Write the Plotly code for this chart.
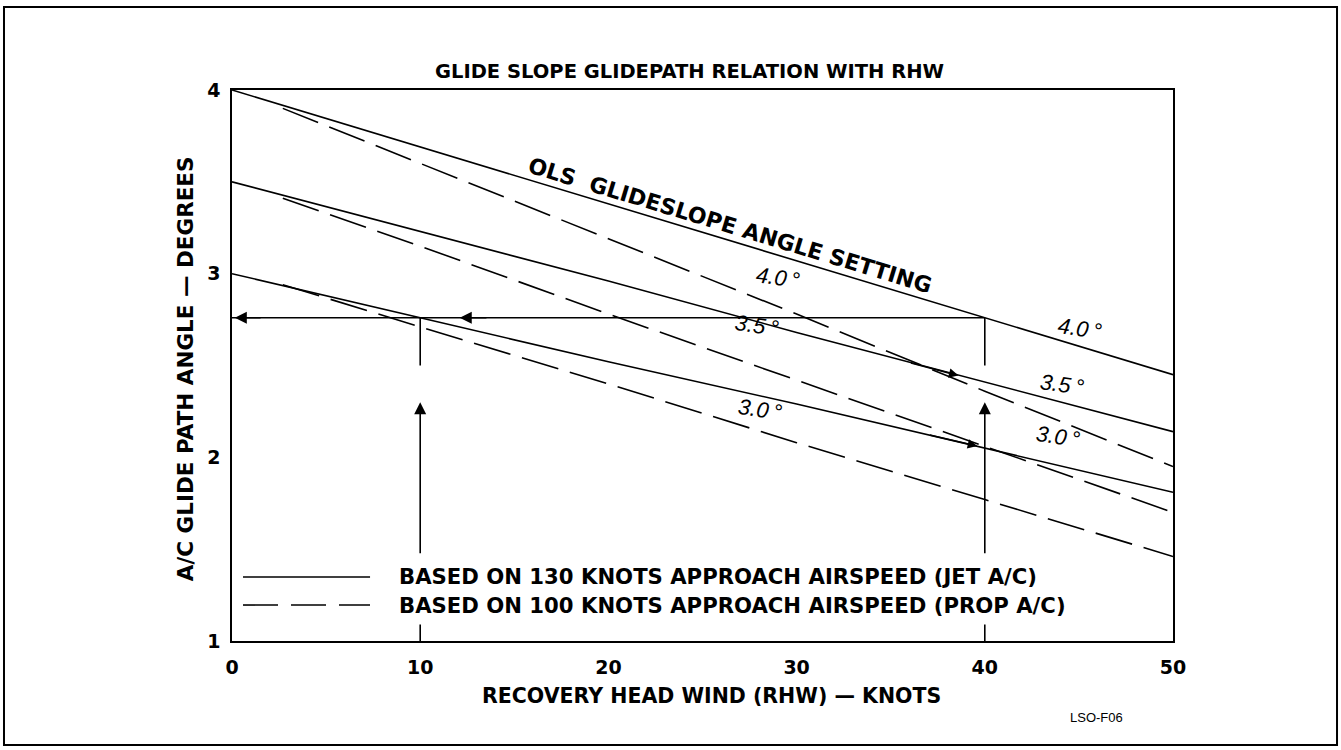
import plotly.graph_objects as go

# ---------------- data ----------------
wind_jet = [0, 10, 20, 30, 40, 50]            # knots RHW, 130 kt jet lines
jet_40 = [4.00, 3.69, 3.38, 3.07, 2.76, 2.45]
jet_35 = [3.50, 3.23, 2.96, 2.68, 2.41, 2.14]
jet_30 = [3.00, 2.76, 2.52, 2.29, 2.05, 1.81]

wind_prop = [2.7, 10, 20, 30, 40, 50]          # knots RHW, 100 kt prop lines
prop_40 = [3.90, 3.60, 3.19, 2.78, 2.36, 1.95]
prop_35 = [3.41, 3.15, 2.78, 2.42, 2.06, 1.70]
prop_30 = [2.94, 2.71, 2.40, 2.08, 1.77, 1.46]

example_winds = [10, 40]      # worked-example vertical read lines
example_angle = 2.76          # worked-example horizontal read line

title_text = "GLIDE SLOPE GLIDEPATH RELATION WITH RHW"
x_title = "RECOVERY HEAD WIND (RHW) \u2014 KNOTS"
y_title = "A/C GLIDE PATH ANGLE \u2014 DEGREES"
legend_solid = "BASED ON 130 KNOTS APPROACH AIRSPEED (JET A/C)"
legend_dash = "BASED ON 100 KNOTS APPROACH AIRSPEED (PROP A/C)"
x_ticks = [0, 10, 20, 30, 40, 50]
y_ticks = [1, 2, 3, 4]

FONT = "DejaVu Sans, Liberation Sans, Arial, sans-serif"
IFONT = "Liberation Sans, Arial, Helvetica, sans-serif"
LW = 1.6
DASH = "38px,12px"

fig = go.Figure()
for y in (jet_40, jet_35, jet_30):
    fig.add_trace(go.Scatter(x=wind_jet, y=y, mode="lines",
                             line=dict(color="black", width=LW),
                             showlegend=False, hoverinfo="skip"))
for y in (prop_40, prop_35, prop_30):
    fig.add_trace(go.Scatter(x=wind_prop, y=y, mode="lines",
                             line=dict(color="black", width=LW, dash=DASH),
                             showlegend=False, hoverinfo="skip"))

shapes = []
annotations = []

# horizontal read line at the example angle
shapes.append(dict(type="line", xref="x", yref="y", x0=0, x1=example_winds[1],
                   y0=example_angle, y1=example_angle,
                   line=dict(color="black", width=LW)))
# left-pointing arrowheads on horizontal line
for tip, tail in ((0.15, 1.6), (12.1, 13.6)):
    annotations.append(dict(x=tip, y=example_angle, ax=tail, ay=example_angle,
                            xref="x", yref="y", axref="x", ayref="y",
                            text="", showarrow=True, arrowhead=2, arrowsize=1.5,
                            arrowwidth=LW, arrowcolor="black"))

# vertical read lines with arrowheads (broken by the legend)
for w in example_winds:
    shapes.append(dict(type="line", xref="x", yref="y", x0=w, x1=w,
                       y0=1.0, y1=1.09, line=dict(color="black", width=LW)))
    shapes.append(dict(type="line", xref="x", yref="y", x0=w, x1=w,
                       y0=2.50, y1=example_angle, line=dict(color="black", width=LW)))
    annotations.append(dict(x=w, y=2.30, ax=w, ay=1.47,
                            xref="x", yref="y", axref="x", ayref="y",
                            text="", showarrow=True, arrowhead=2, arrowsize=1.5,
                            arrowwidth=LW, arrowcolor="black"))

# small arrowheads along the diagonal lines near 40 knots
for (x0, y0, x1, y1) in ((36.0, jet_35[3] - 0.0273 * 6, 38.6, jet_35[3] - 0.0273 * 8.6),
                         (37.0, jet_30[3] - 0.0238 * 7, 39.6, jet_30[3] - 0.0238 * 9.6)):
    annotations.append(dict(x=x1, y=y1, ax=x0, ay=y0,
                            xref="x", yref="y", axref="x", ayref="y",
                            text="", showarrow=True, arrowhead=2, arrowsize=1.2,
                            arrowwidth=LW, arrowcolor="black"))

# legend samples
shapes.append(dict(type="line", xref="paper", yref="paper", x0=0.0117, x1=0.1467,
                   y0=0.1162, y1=0.1162, line=dict(color="black", width=LW)))
shapes.append(dict(type="line", xref="paper", yref="paper", x0=0.0117, x1=0.1467,
                   y0=0.0653, y1=0.0653, line=dict(color="black", width=LW, dash="35px,13px")))
for txt, yy in ((legend_solid, 0.1162), (legend_dash, 0.0653)):
    annotations.append(dict(x=0.1753, y=yy, xref="paper", yref="paper", text=txt,
                            showarrow=False, xanchor="left", yanchor="middle",
                            font=dict(family=FONT, size=21.2, color="black", weight="bold")))

# outer frame
shapes.append(dict(type="rect", xref="paper", yref="paper", x0=-0.2423, x1=1.1743,
                   y0=-0.1887, y1=1.1506, line=dict(color="black", width=2)))

# titles
annotations.append(dict(x=0.4867, y=1.0327, xref="paper", yref="paper", text=title_text,
                        showarrow=False, xanchor="center", yanchor="middle",
                        font=dict(family=FONT, size=19.5, color="black", weight="bold")))
annotations.append(dict(x=0.510, y=-0.0998, xref="paper", yref="paper", text=x_title,
                        showarrow=False, xanchor="center", yanchor="middle",
                        font=dict(family=FONT, size=20.5, color="black", weight="bold")))
annotations.append(dict(x=-0.050, y=0.495, xref="paper", yref="paper", text=y_title,
                        showarrow=False, xanchor="center", yanchor="middle", textangle=-90,
                        font=dict(family=FONT, size=21.5, color="black", weight="bold")))
annotations.append(dict(x=0.919, y=-0.1397, xref="paper", yref="paper", text="LSO-F06",
                        showarrow=False, xanchor="center", yanchor="middle",
                        font=dict(family=IFONT, size=13, color="black")))

# in-plot labels
annotations.append(dict(x=26.46, y=3.265, xref="x", yref="y",
                        text="OLS  GLIDESLOPE ANGLE SETTING", showarrow=False,
                        textangle=16.8, xanchor="center", yanchor="middle",
                        font=dict(family=FONT, size=22, color="black", weight="bold")))
deg_labels = [("4.0\u2009\u00b0", 29.0, 2.977), ("3.5\u2009\u00b0", 27.9, 2.72),
              ("3.0\u2009\u00b0", 28.06, 2.258), ("4.0\u2009\u00b0", 45.06, 2.704),
              ("3.5\u2009\u00b0", 44.1, 2.394), ("3.0\u2009\u00b0", 43.9, 2.111)]
for txt, xx, yy in deg_labels:
    annotations.append(dict(x=xx, y=yy, xref="x", yref="y", text="<i>" + txt + "</i>",
                            showarrow=False, textangle=8, xanchor="center", yanchor="middle",
                            font=dict(family=IFONT, size=22, color="black")))

axis_common = dict(showline=True, mirror=True, linecolor="black", linewidth=1.6,
                   showgrid=False, zeroline=False, ticks="",
                   tickfont=dict(family=FONT, size=19, color="black", weight="bold"),
                   fixedrange=True)

fig.update_layout(
    width=1341, height=750, autosize=False,
    margin=dict(l=232, r=168, t=90, b=109),
    paper_bgcolor="white", plot_bgcolor="white",
    showlegend=False,
    xaxis=dict(range=[0, 50], tickvals=x_ticks, ticklabelstandoff=8, **axis_common),
    yaxis=dict(range=[1, 4], tickvals=y_ticks, ticklabelstandoff=6, **axis_common),
    shapes=shapes, annotations=annotations,
)

fig.write_html("out.html", config={"displayModeBar": False},
               post_script="document.body.style.margin='0';")
